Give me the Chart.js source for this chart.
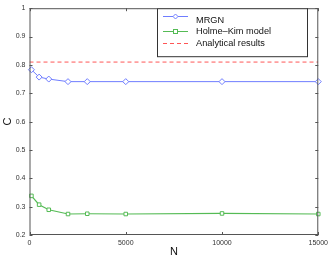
<!DOCTYPE html>
<html>
<head>
<meta charset="utf-8">
<script src="https://cdn.jsdelivr.net/npm/chart.js@4.4.1/dist/chart.umd.min.js"></script>
<style>
  html, body { margin: 0; padding: 0; background: #fff; }
  #wrap { width: 332px; height: 264px; }
</style>
</head>
<body>
<div id="wrap"><canvas id="c"></canvas></div>
<script>
// values
const N_values = [100, 500, 1000, 2000, 3000, 5000, 10000, 15000];
const mrgn = [0.783, 0.757, 0.750, 0.741, 0.741, 0.741, 0.741, 0.741];
const holmeKim = [0.338, 0.307, 0.289, 0.274, 0.275, 0.274, 0.276, 0.274];
const analyticalN = [0, 15000];
const analytical = [0.81, 0.81];
const xTicks = [0, 5000, 10000, 15000];
const yTicks = [0.2, 0.3, 0.4, 0.5, 0.6, 0.7, 0.8, 0.9, 1];

const BLUE = '#6f7dff', GREEN = '#55bb55', RED = '#ff5555';

const pts = (xs, ys) => xs.map((x, i) => ({x: x, y: ys[i]}));

// MATLAB-like frame with inward ticks and a boxed legend in the top right
const framePlugin = {
  id: 'frame',
  afterDraw(chart) {
    const ctx = chart.ctx, a = chart.chartArea;
    const xs = chart.scales.x, ys = chart.scales.y;
    ctx.save();
    ctx.strokeStyle = '#555';
    ctx.lineWidth = 1;
    ctx.strokeRect(a.left + 0.5, a.top + 0.5, a.right - a.left - 1, a.bottom - a.top - 1);
    ctx.beginPath();
    xTicks.forEach(t => {
      const px = Math.round(xs.getPixelForValue(t)) + 0.5;
      ctx.moveTo(px, a.bottom); ctx.lineTo(px, a.bottom - 3);
      ctx.moveTo(px, a.top); ctx.lineTo(px, a.top + 3);
    });
    yTicks.forEach(t => {
      const py = Math.round(ys.getPixelForValue(t)) + 0.5;
      ctx.moveTo(a.left, py); ctx.lineTo(a.left + 3, py);
      ctx.moveTo(a.right, py); ctx.lineTo(a.right - 3, py);
    });
    ctx.stroke();

    // legend
    const bx = 157, by = a.top, bw = 150, bh = 48;
    ctx.fillStyle = '#fff';
    ctx.fillRect(bx, by, bw, bh);
    ctx.strokeStyle = '#333';
    ctx.strokeRect(bx + 0.5, by + 0.5, bw, bh);
    ctx.font = '9.2px "Liberation Sans", Arial, sans-serif';
    ctx.textBaseline = 'middle';
    const rows = [16, 31, 43];
    const cols = [BLUE, GREEN, RED];
    chart.data.datasets.forEach((ds, i) => {
      const y = rows[i] + 0.5;
      ctx.strokeStyle = cols[i];
      ctx.lineWidth = 1;
      ctx.setLineDash(i === 2 ? [4, 3] : []);
      ctx.beginPath();
      ctx.moveTo(163, y); ctx.lineTo(188, y);
      ctx.stroke();
      ctx.setLineDash([]);
      if (i === 0) {
        ctx.beginPath();
        ctx.moveTo(175.5, y - 2.5); ctx.lineTo(178, y); ctx.lineTo(175.5, y + 2.5); ctx.lineTo(173, y);
        ctx.closePath(); ctx.fillStyle = '#fff'; ctx.fill(); ctx.stroke();
      } else if (i === 1) {
        ctx.fillStyle = '#fff';
        ctx.fillRect(173.5, y - 2, 4, 4); ctx.strokeRect(173.5, y - 2, 4, 4);
      }
      ctx.fillStyle = '#111';
      ctx.fillText(ds.label, 196, rows[i] + (i === 0 ? 4 : 0));
    });
    ctx.restore();
  }
};

new Chart(document.getElementById('c'), {
  type: 'line',
  data: {
    datasets: [{
      label: 'MRGN',
      data: pts(N_values, mrgn),
      borderColor: BLUE,
      backgroundColor: '#fff',
      borderWidth: 1,
      pointStyle: 'rectRot',
      pointRadius: 3,
      pointBorderWidth: 1,
      clip: false,
      fill: false
    }, {
      label: 'Holme\u2013Kim model',
      data: pts(N_values, holmeKim),
      borderColor: GREEN,
      backgroundColor: '#fff',
      borderWidth: 1.2,
      pointStyle: 'rect',
      pointRadius: 2.5,
      pointBorderWidth: 1,
      clip: false,
      fill: false
    }, {
      label: 'Analytical results',
      data: pts(analyticalN, analytical),
      borderColor: RED,
      borderWidth: 1,
      borderDash: [4, 3],
      pointRadius: 0,
      fill: false
    }]
  },
  options: {
    responsive: true,
    maintainAspectRatio: false,
    animation: { duration: 0 },
    layout: { padding: { top: 6, right: 12, left: 0, bottom: 0 } },
    plugins: { legend: { display: false }, tooltip: { enabled: false } },
    scales: {
      x: {
        type: 'linear',
        min: 0, max: 15000,
        afterBuildTicks: s => { s.ticks = xTicks.map(v => ({value: v})); },
        afterFit: s => { s.height = 29; },
        grid: { display: false, drawTicks: false },
        border: { display: false },
        ticks: { color: '#333', font: { size: 7, family: '"Liberation Sans", Arial, sans-serif' }, padding: 4, maxRotation: 0,
                 callback: v => String(v) },
        title: { display: true, text: 'N', color: '#111', padding: { top: 0, bottom: 5 },
                 font: { size: 11, family: '"Liberation Sans", Arial, sans-serif' } }
      },
      y: {
        min: 0.2, max: 1,
        afterBuildTicks: s => { s.ticks = yTicks.map(v => ({value: v})); },
        afterFit: s => { s.width = 29.5; },
        grid: { display: false, drawTicks: false },
        border: { display: false },
        ticks: { color: '#333', font: { size: 7, family: '"Liberation Sans", Arial, sans-serif' }, padding: 4,
                 callback: v => String(Math.round(v * 10) / 10) },
        title: { display: true, text: 'C', color: '#111', padding: { top: 1, bottom: 0 },
                 font: { size: 11, family: '"Liberation Sans", Arial, sans-serif' } }
      }
    }
  },
  plugins: [framePlugin]
});
</script>
</body>
</html>
